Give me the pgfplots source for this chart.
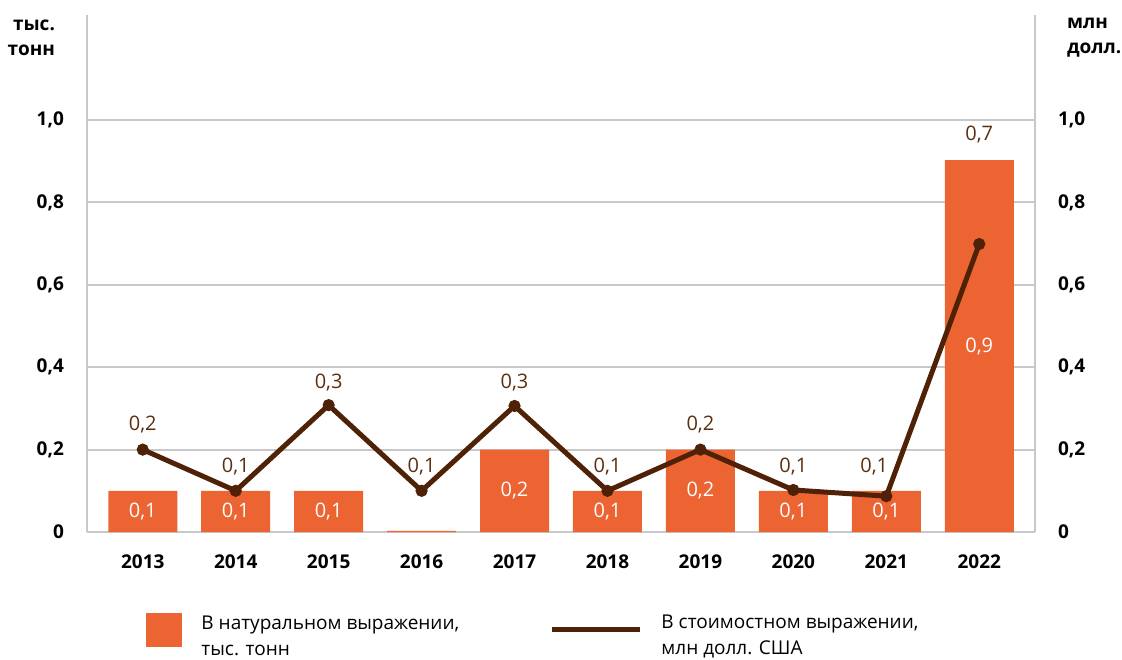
\documentclass[border=0pt]{standalone}
\usepackage{pgfplots}
\pgfplotsset{compat=1.18}
\usepackage{fontspec}
\setmainfont{Open Sans}
\definecolor{barc}{HTML}{EB6431}
\definecolor{linec}{HTML}{4F2208}
\definecolor{labc}{HTML}{5C2E10}
\definecolor{gridc}{HTML}{C8C8C8}

\pgfplotsset{
  common/.style={
    width=474pt,height=258.5pt,scale only axis,
    at={(0,0)},anchor=south west,
    xmin=-0.6,xmax=9.6,ymin=0,ymax=1.255,
    ytick={0,0.2,0.4,0.6,0.8,1.0},
    yticklabels={0,{0,2},{0,4},{0,6},{0,8},{1,0}},
    major tick length=0pt,
    axis line style={gridc,line width=1pt},
    tick label style={font=\fontsize{9.5}{11}\selectfont\bfseries,text=black},
    /pgf/number format/assume math mode=true,
  },
}

\begin{document}
\begin{tikzpicture}
\useasboundingbox (-43.5pt,-63.5pt) rectangle (517.5pt,266pt);
\begin{axis}[common,clip=false,
  axis y line*=left,axis x line*=bottom,
  ymajorgrids,grid style={gridc,line width=1pt},
  xtick={0,...,9},
  xticklabels={2013,2014,2015,2016,2017,2018,2019,2020,2021,2022},
  xticklabel style={yshift=-8pt},
  yticklabel style={xshift=-8pt},
  legend style={at={(0.056,-0.145)},anchor=north west,draw=none,
    legend columns=2,font=\fontsize{9.5}{13}\selectfont,
    /tikz/every odd column/.append style={column sep=7.5pt}},
  legend cell align=left,
]
\addplot[ybar,bar width=34.5pt,fill=barc,draw=none,
  legend image code/.code={\fill[barc] (0pt,-8.5pt) rectangle (18pt,8.5pt);}]
  coordinates {(0,0.1) (1,0.1) (2,0.1) (3,0.003) (4,0.2) (5,0.1) (6,0.2) (7,0.1) (8,0.1) (9,0.903)};
\addlegendentry{\parbox[c]{172pt}{В натуральном выражении,\\тыс. тонн}}
\addplot[linec,line width=2.5pt,mark=*,mark size=2.8pt,mark options={line width=0.5pt},
  legend image code/.code={\draw[linec,line width=2.5pt] (0pt,0pt) -- (44pt,0pt);}]
  coordinates {(0,0.2) (1,0.1) (2,0.308) (3,0.1) (4,0.306) (5,0.1) (6,0.2) (7,0.102) (8,0.087) (9,0.699)};
\addlegendentry{\parbox[c]{200pt}{В стоимостном выражении,\\млн долл. США}}

% bar labels
\begin{scope}[every node/.style={text=white,font=\fontsize{10}{12}\selectfont}]
\node at (axis cs:0,0.05) {0,1};
\node at (axis cs:1,0.05) {0,1};
\node at (axis cs:2,0.05) {0,1};
\node at (axis cs:4,0.1) {0,2};
\node at (axis cs:5,0.05) {0,1};
\node at (axis cs:6,0.1) {0,2};
\node at (axis cs:7,0.05) {0,1};
\node at (axis cs:8,0.05) {0,1};
\node at (axis cs:9,0.45) {0,9};
\end{scope}
% line labels
\begin{scope}[every node/.style={text=labc,font=\fontsize{10}{12}\selectfont}]
\node at (axis cs:0,0.262) {0,2};
\node at (axis cs:1,0.160) {0,1};
\node at (axis cs:2,0.364) {0,3};
\node at (axis cs:3,0.158) {0,1};
\node at (axis cs:4,0.364) {0,3};
\node at (axis cs:5,0.158) {0,1};
\node at (axis cs:6,0.260) {0,2};
\node at (axis cs:7,0.158) {0,1};
\node at (axis cs:7.87,0.158) {0,1};
\node at (axis cs:9,0.964) {0,7};
\end{scope}
\node[anchor=east,align=right,xshift=-12.5pt,yshift=-11.5pt,
  font=\fontsize{9.5}{12}\selectfont\bfseries] at (rel axis cs:0,1) {тыс.\\[0.5pt]тонн};
\node[anchor=west,align=left,xshift=12.5pt,yshift=-11.5pt,
  font=\fontsize{9.5}{12}\selectfont\bfseries] at (rel axis cs:1,1) {млн\\[0.5pt]долл.};
\end{axis}
\begin{axis}[common,
  axis y line*=right,hide x axis,
  yticklabel style={xshift=8pt},
]
\end{axis}
\end{tikzpicture}
\end{document}
